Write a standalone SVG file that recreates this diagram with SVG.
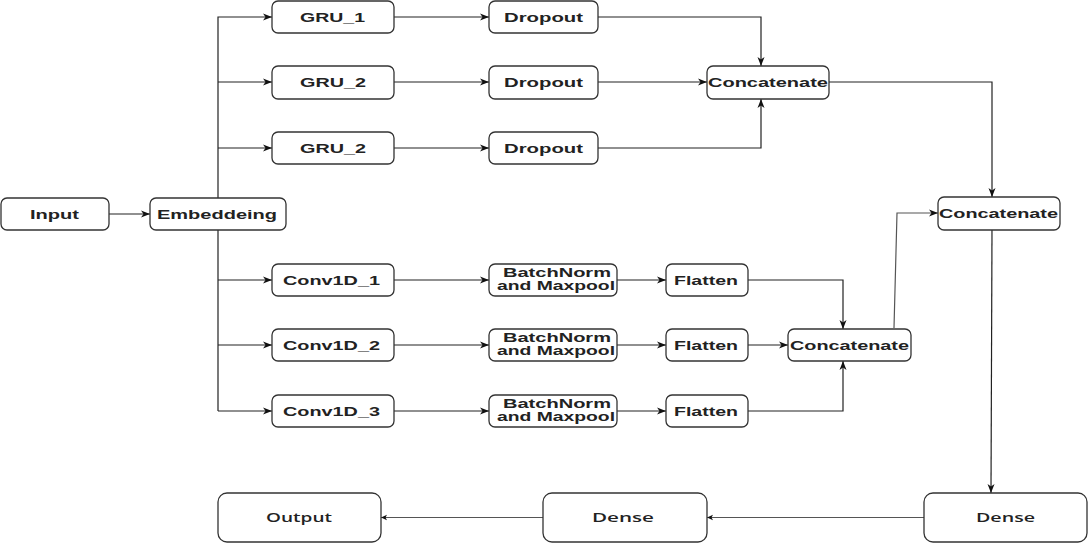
<svg xmlns="http://www.w3.org/2000/svg" width="1088" height="543" viewBox="0 0 1088 543">
<style>
.n rect{fill:#fff;stroke:#333;stroke-width:1.3}
.t{font-family:"Liberation Sans",Arial,sans-serif;font-weight:bold;font-size:13px;fill:#222}
.b{font-family:"Open Sans","Noto Sans",sans-serif;font-weight:600;font-size:13px;fill:#222}
.c path{fill:none;stroke:#222;stroke-width:1.2}
.c path.g{stroke:#555}
</style>
<defs>
<marker id="a" markerUnits="userSpaceOnUse" markerWidth="10" markerHeight="8" refX="9" refY="4" orient="auto">
<path d="M0,0.5 L9,4 L0,7.5 L2.5,4 z" fill="#111"/>
</marker>
<marker id="s" markerUnits="userSpaceOnUse" markerWidth="7" markerHeight="7" refX="6" refY="3.5" orient="auto">
<path d="M0,0.8 L6,3.5 L0,6.2 L1.5,3.5 z" fill="#111"/>
</marker>
</defs>
<g id="connectors" class="c">
<path d="M109,214 H150" marker-end="url(#a)"/>
<path d="M218,411 V17 H272" marker-end="url(#a)"/>
<path d="M218,82 H272" marker-end="url(#a)"/>
<path d="M218,148 H272" marker-end="url(#a)"/>
<path d="M218,280 H272" marker-end="url(#a)"/>
<path d="M218,345 H272" marker-end="url(#a)"/>
<path d="M218,411 H272" marker-end="url(#a)"/>
<path d="M394,17 H489" marker-end="url(#a)"/>
<path d="M394,82 H489" marker-end="url(#a)"/>
<path d="M394,148 H489" marker-end="url(#a)"/>
<path d="M598,17 H761 V66" marker-end="url(#a)"/>
<path d="M598,82 H707" marker-end="url(#a)"/>
<path d="M598,148 H761 V99" marker-end="url(#a)"/>
<path d="M829,82 H992 V197" marker-end="url(#a)"/>
<path d="M394,280 H489" marker-end="url(#a)"/>
<path d="M394,345 H489" marker-end="url(#a)"/>
<path d="M394,411 H489" marker-end="url(#a)"/>
<path d="M617,280 H666" marker-end="url(#a)"/>
<path d="M617,345 H666" marker-end="url(#a)"/>
<path d="M617,411 H666" marker-end="url(#a)"/>
<path d="M748,280 H843 V329" marker-end="url(#a)"/>
<path d="M748,345 H788" marker-end="url(#a)"/>
<path d="M748,411 H843 V361" marker-end="url(#a)"/>
<path class="g" d="M894,328 L897,213 H938" marker-end="url(#a)"/>
<path d="M992,230 L991,493" marker-end="url(#a)"/>
<path class="g" d="M924,517.5 H707" marker-end="url(#s)"/>
<path class="g" d="M543,517.5 H381" marker-end="url(#s)"/>
</g>
<g id="input" class="n"><rect x="1" y="198" width="108" height="32" rx="6"/><text class="t" x="30" y="219" textLength="49" lengthAdjust="spacingAndGlyphs">Input</text></g>
<g id="embedding" class="n"><rect x="150" y="198" width="136" height="32" rx="6"/><text class="t" x="157" y="219" textLength="120" lengthAdjust="spacingAndGlyphs">Embeddeing</text></g>
<g id="gru1" class="n"><rect x="272" y="1" width="122" height="32" rx="6"/><text class="t" x="300" y="22" textLength="65" lengthAdjust="spacingAndGlyphs">GRU_1</text></g>
<g id="gru2" class="n"><rect x="272" y="66" width="122" height="33" rx="6"/><text class="t" x="300" y="87" textLength="66" lengthAdjust="spacingAndGlyphs">GRU_2</text></g>
<g id="gru3" class="n"><rect x="272" y="132" width="122" height="32" rx="6"/><text class="t" x="300" y="153" textLength="66" lengthAdjust="spacingAndGlyphs">GRU_2</text></g>
<g id="dropout1" class="n"><rect x="489" y="1" width="109" height="32" rx="6"/><text class="t" x="504" y="22" textLength="79" lengthAdjust="spacingAndGlyphs">Dropout</text></g>
<g id="dropout2" class="n"><rect x="489" y="66" width="109" height="33" rx="6"/><text class="t" x="504" y="87" textLength="79" lengthAdjust="spacingAndGlyphs">Dropout</text></g>
<g id="dropout3" class="n"><rect x="489" y="132" width="109" height="32" rx="6"/><text class="t" x="504" y="153" textLength="79" lengthAdjust="spacingAndGlyphs">Dropout</text></g>
<g id="concat1" class="n"><rect x="707" y="66" width="122" height="33" rx="6"/><text class="t" x="708" y="87" textLength="120" lengthAdjust="spacingAndGlyphs">Concatenate</text></g>
<g id="concat2" class="n"><rect x="938" y="197" width="122" height="33" rx="6"/><text class="t" x="939" y="218" textLength="119" lengthAdjust="spacingAndGlyphs">Concatenate</text></g>
<g id="conv1" class="n"><rect x="272" y="264" width="122" height="32" rx="6"/><text class="t" x="283" y="285" textLength="97" lengthAdjust="spacingAndGlyphs">Conv1D_1</text></g>
<g id="conv2" class="n"><rect x="272" y="329" width="122" height="32" rx="6"/><text class="t" x="283" y="350" textLength="97" lengthAdjust="spacingAndGlyphs">Conv1D_2</text></g>
<g id="conv3" class="n"><rect x="272" y="395" width="122" height="32" rx="6"/><text class="t" x="283" y="416" textLength="97" lengthAdjust="spacingAndGlyphs">Conv1D_3</text></g>
<g id="bn1" class="n"><rect x="489" y="264" width="128" height="32" rx="6"/><text class="t" x="503" y="277" textLength="108" lengthAdjust="spacingAndGlyphs">BatchNorm</text><text class="t" x="497" y="290" textLength="118" lengthAdjust="spacingAndGlyphs">and Maxpool</text></g>
<g id="bn2" class="n"><rect x="489" y="329" width="128" height="32" rx="6"/><text class="t" x="503" y="342" textLength="108" lengthAdjust="spacingAndGlyphs">BatchNorm</text><text class="t" x="497" y="355" textLength="118" lengthAdjust="spacingAndGlyphs">and Maxpool</text></g>
<g id="bn3" class="n"><rect x="489" y="395" width="128" height="32" rx="6"/><text class="t" x="503" y="408" textLength="108" lengthAdjust="spacingAndGlyphs">BatchNorm</text><text class="t" x="497" y="421" textLength="118" lengthAdjust="spacingAndGlyphs">and Maxpool</text></g>
<g id="flatten1" class="n"><rect x="666" y="264" width="82" height="32" rx="6"/><text class="t" x="674" y="285" textLength="64" lengthAdjust="spacingAndGlyphs">Flatten</text></g>
<g id="flatten2" class="n"><rect x="666" y="329" width="82" height="32" rx="6"/><text class="t" x="674" y="350" textLength="64" lengthAdjust="spacingAndGlyphs">Flatten</text></g>
<g id="flatten3" class="n"><rect x="666" y="395" width="82" height="32" rx="6"/><text class="t" x="674" y="416" textLength="64" lengthAdjust="spacingAndGlyphs">Flatten</text></g>
<g id="concat3" class="n"><rect x="788" y="329" width="123" height="32" rx="6"/><text class="t" x="790" y="350" textLength="119" lengthAdjust="spacingAndGlyphs">Concatenate</text></g>
<g id="dense1" class="n"><rect x="924" y="493" width="163" height="49" rx="9"/><text class="b" x="976" y="522" textLength="59" lengthAdjust="spacingAndGlyphs">Dense</text></g>
<g id="dense2" class="n"><rect x="543" y="493" width="164" height="49" rx="9"/><text class="b" x="592" y="522" textLength="62" lengthAdjust="spacingAndGlyphs">Dense</text></g>
<g id="output" class="n"><rect x="218" y="493" width="163" height="49" rx="9"/><text class="b" x="266" y="522" textLength="66" lengthAdjust="spacingAndGlyphs">Output</text></g>
</svg>
